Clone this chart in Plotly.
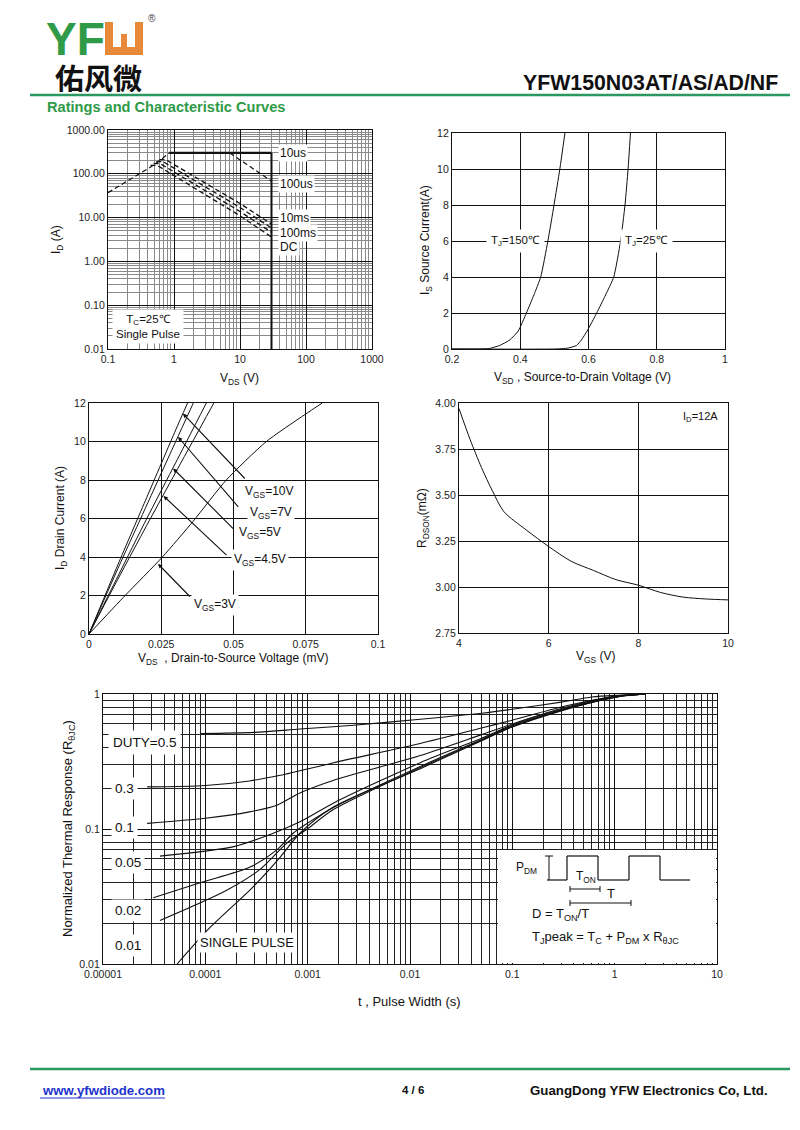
import math
import plotly.graph_objects as go

W, H = 800, 1130
OFF = 8  # page body margin of the rendered html
def px(x): return (x - OFF) / W
def py(y): return 1 - (y - OFF) / H
def lg(v): return math.log10(v)

FONT = "Liberation Sans, Arial, sans-serif"
BLACK = "#111111"

# ---------------- data ----------------
# SOA (plot 1)
soa_rds_x = [0.1, 0.5, 0.85]
soa_rds_y = [37, 160, 300]
soa_10us_x = [0.85, 30]
soa_10us_y = [300, 300]
soa_100us_x = [7, 30]
soa_100us_y = [300, 68]
soa_1ms_x = [0.6, 0.75, 10, 30]
soa_1ms_y = [210, 210, 21, 7.1]
soa_10ms_x = [0.54, 0.68, 10, 30]
soa_10ms_y = [190, 190, 17, 5.8]
soa_100ms_x = [0.49, 0.62, 10, 30]
soa_100ms_y = [170, 170, 13.8, 4.6]
soa_dc_x = [0.44, 0.56, 10, 30]
soa_dc_y = [155, 155, 11, 3.6]
vds_max_x = [30, 30]
vds_max_y = [0.01, 300]

# Source-drain diode (plot 2)
vsd_150_x = [0.2, 0.28, 0.31, 0.34, 0.369, 0.394, 0.418, 0.44, 0.46, 0.481, 0.499, 0.516, 0.531]
is_150_y = [0, 0, 0.03, 0.2, 0.5, 1, 2, 3, 4, 6, 8, 10, 12]
vsd_25_x = [0.2, 0.5, 0.54, 0.565, 0.579, 0.596, 0.624, 0.65, 0.674, 0.694, 0.707, 0.716, 0.723]
is_25_y = [0, 0, 0.05, 0.2, 0.5, 1, 2, 3, 4, 6, 8, 10, 12]

# Output characteristics (plot 3)
vds_10_x = [0, 0.01, 0.02, 0.03, 0.0341]
id_10_y = [0, 3.6, 7.1, 10.6, 12]
vds_7_x = [0, 0.01, 0.02, 0.03, 0.0361]
id_7_y = [0, 3.4, 6.7, 10.0, 12]
vds_5_x = [0, 0.01, 0.02, 0.03, 0.0406]
id_5_y = [0, 3.0, 6.0, 8.9, 12]
vds_45_x = [0, 0.01, 0.02, 0.03, 0.0432]
id_45_y = [0, 2.85, 5.65, 8.4, 12]
vds_3_x = [0, 0.0125, 0.0254, 0.036, 0.0475, 0.0614, 0.0807]
id_3_y = [0, 2, 4, 5.85, 8, 10, 12]

# RDS(on) vs VGS (plot 4)
vgs_x = [4, 4.25, 4.5, 4.75, 5, 5.5, 6, 6.5, 7, 7.5, 8, 8.5, 9, 9.5, 10]
rdson_y = [3.97, 3.80, 3.65, 3.52, 3.41, 3.31, 3.22, 3.14, 3.09, 3.04, 3.01, 2.97, 2.945, 2.935, 2.93]

# Transient thermal response (plot 5)
th_d05_x = [9e-5, 3e-4, 8.4e-4, 3e-3, 0.0126, 0.05, 0.1, 0.3, 0.6, 1.1, 2]
th_d05_y = [0.51, 0.52, 0.55, 0.59, 0.65, 0.72, 0.77, 0.87, 0.95, 0.98, 1.0]
th_d03_x = [2.7e-5, 1e-4, 2.7e-4, 5.4e-4, 1.8e-3, 0.0126, 0.05, 0.1, 0.3, 0.6, 1.1, 2]
th_d03_y = [0.205, 0.21, 0.227, 0.25, 0.31, 0.43, 0.56, 0.64, 0.8, 0.9, 0.97, 1.0]
th_d01_x = [2.7e-5, 1e-4, 2.7e-4, 5e-4, 8.4e-4, 1.8e-3, 0.0126, 0.05, 0.1, 0.3, 0.6, 1.1, 2]
th_d01_y = [0.11, 0.12, 0.134, 0.15, 0.185, 0.23, 0.35, 0.5, 0.6, 0.78, 0.89, 0.97, 1.0]
th_d005_x = [3.6e-5, 1.9e-4, 4.6e-4, 8.4e-4, 1.8e-3, 0.0126, 0.05, 0.1, 0.3, 0.6, 1.1, 2]
th_d005_y = [0.063, 0.074, 0.093, 0.113, 0.156, 0.31, 0.47, 0.59, 0.77, 0.88, 0.96, 1.0]
th_d002_x = [3.1e-5, 8.9e-5, 2.7e-4, 5e-4, 7.2e-4, 9.9e-4, 1.8e-3, 0.0126, 0.05, 0.1, 0.3, 0.6, 1.1, 2]
th_d002_y = [0.031, 0.040, 0.052, 0.070, 0.093, 0.11, 0.145, 0.29, 0.46, 0.58, 0.76, 0.87, 0.96, 1.0]
th_d001_x = [3.6e-5, 1.6e-4, 3.4e-4, 6.3e-4, 9.9e-4, 1.8e-3, 0.0126, 0.05, 0.1, 0.3, 0.6, 1.1, 2]
th_d001_y = [0.021, 0.035, 0.050, 0.079, 0.10, 0.14, 0.285, 0.455, 0.575, 0.755, 0.87, 0.96, 1.0]
th_sp_x = [5.3e-5, 1.1e-4, 2.9e-4, 5.4e-4, 8.4e-4, 1.8e-3, 0.0126, 0.05, 0.1, 0.3, 0.6, 1.1, 2]
th_sp_y = [0.01, 0.0185, 0.037, 0.062, 0.093, 0.146, 0.28, 0.45, 0.57, 0.75, 0.865, 0.955, 1.0]

# tick labels
soa_xticks = [0.1, 1, 10, 100, 1000]
soa_xlabels = ["0.1", "1", "10", "100", "1000"]
soa_yticks = [0.01, 0.1, 1, 10, 100, 1000]
soa_ylabels = ["0.01", "0.10", "1.00", "10.00", "100.00", "1000.00"]
vsd_ticks = [0.2, 0.4, 0.6, 0.8, 1.0]
vsd_labels = ["0.2", "0.4", "0.6", "0.8", "1"]
vds_ticks = [0, 0.025, 0.05, 0.075, 0.1]
vds_labels = ["0", "0.025", "0.05", "0.075", "0.1"]
th_xticks = [1e-5, 1e-4, 1e-3, 1e-2, 0.1, 1, 10]
th_xlabels = ["0.00001", "0.0001", "0.001", "0.01", "0.1", "1", "10"]
th_yticks = [0.01, 0.1, 1]
th_ylabels = ["0.01", "0.1", "1"]

def minor_vals(e0, e1):
    return [m * 10 ** e for e in range(e0, e1) for m in range(2, 10)]

fig = go.Figure()

def line(x, y, xa, ya, dash="solid", width=1.1, shape="linear", smoothing=1.0):
    fig.add_trace(go.Scatter(x=x, y=y, mode="lines", xaxis=xa, yaxis=ya,
                             line=dict(color=BLACK, width=width, dash=dash, shape=shape,
                                       smoothing=smoothing),
                             hoverinfo="skip", showlegend=False))

# plot 1
line(vds_max_x, vds_max_y, "x", "y", width=2)
line(soa_rds_x, soa_rds_y, "x", "y", dash="5px,3px", width=1.2)
line(soa_10us_x, soa_10us_y, "x", "y", width=2.2)
line(soa_100us_x, soa_100us_y, "x", "y", dash="5px,3px", width=1.2)
for xs, ys in [(soa_1ms_x, soa_1ms_y), (soa_10ms_x, soa_10ms_y),
               (soa_100ms_x, soa_100ms_y), (soa_dc_x, soa_dc_y)]:
    line(xs, ys, "x", "y", dash="5px,3px", width=1.3)

# plot 2
line(vsd_150_x, is_150_y, "x2", "y2", width=1, shape="spline", smoothing=0.5)
line(vsd_25_x, is_25_y, "x2", "y2", width=1, shape="spline", smoothing=0.5)

# plot 3
for xs, ys in [(vds_10_x, id_10_y), (vds_7_x, id_7_y), (vds_5_x, id_5_y),
               (vds_45_x, id_45_y), (vds_3_x, id_3_y)]:
    line(xs, ys, "x3", "y3", width=1, shape="spline", smoothing=0.6)

# plot 4
line(vgs_x, rdson_y, "x4", "y4", width=1, shape="spline", smoothing=0.8)

# plot 5
for xs, ys in [(th_d05_x, th_d05_y), (th_d03_x, th_d03_y), (th_d01_x, th_d01_y),
               (th_d005_x, th_d005_y), (th_d002_x, th_d002_y), (th_d001_x, th_d001_y),
               (th_sp_x, th_sp_y)]:
    line(xs, ys, "x5", "y5", width=1.1, shape="spline", smoothing=0.8)

tickfont = dict(family=FONT, size=10.5, color="#222")

def lin_axis(domain, rng, anchor, tv=None, tt=None, dtick=None, **kw):
    d = dict(domain=domain, range=rng, anchor=anchor, automargin=False,
             showgrid=True, gridcolor=BLACK, gridwidth=1, zeroline=False,
             showline=True, linecolor=BLACK, linewidth=1.2, mirror=True,
             ticks="", tickfont=tickfont)
    if tv is not None:
        d.update(tickmode="array", tickvals=tv, ticktext=tt)
    else:
        d.update(dtick=dtick)
    d.update(kw)
    return d

def log_axis(domain, rng, tv, tt, anchor, major_w, minor_c, minor_w):
    return dict(domain=domain, type="log", range=rng, anchor=anchor, automargin=False,
                tickmode="array", tickvals=tv, ticktext=tt,
                showgrid=True, gridcolor=BLACK, gridwidth=major_w, zeroline=False,
                showline=True, linecolor=BLACK, linewidth=1.3, mirror=True,
                ticks="", tickfont=tickfont,
                minor=dict(tickmode="array", tickvals=minor_vals(rng[0], rng[1]),
                           showgrid=True, gridcolor=minor_c, gridwidth=minor_w, ticks=""))

fig.update_layout(
    width=W, height=H, margin=dict(l=0, r=0, t=0, b=0, autoexpand=False),
    paper_bgcolor="white", plot_bgcolor="white", showlegend=False,
    font=dict(family=FONT, color=BLACK),
    xaxis=log_axis([px(108), px(372)], [-1, 3], soa_xticks, soa_xlabels, "y", 1.4, "#8a8a8a", 0.7),
    yaxis=log_axis([py(349), py(130)], [-2, 3], soa_yticks, soa_ylabels, "x", 1.4, "#8a8a8a", 0.7),
    xaxis2=lin_axis([px(452), px(725)], [0.2, 1], "y2", tv=vsd_ticks, tt=vsd_labels),
    yaxis2=lin_axis([py(349), py(133)], [0, 12], "x2", dtick=2),
    xaxis3=lin_axis([px(89), px(378)], [0, 0.1], "y3", tv=vds_ticks, tt=vds_labels),
    yaxis3=lin_axis([py(634), py(403)], [0, 12], "x3", dtick=2),
    xaxis4=lin_axis([px(459), px(728)], [4, 10], "y4", dtick=2),
    yaxis4=lin_axis([py(633), py(403)], [2.75, 4.0], "x4", dtick=0.25, tickformat=".2f"),
    xaxis5=log_axis([px(103), px(717)], [-5, 1], th_xticks, th_xlabels, "y5", 1.3, "#222", 0.9),
    yaxis5=log_axis([py(964), py(694)], [-2, 0], th_yticks, th_ylabels, "x5", 1.3, "#222", 0.9),
)

ann = []
def text(x, y, s, size=12, xanchor="center", yanchor="middle", angle=0, bg=None,
         xref="paper", yref="paper", color=BLACK, family=FONT, pad=1, height=None):
    d = dict(x=x, y=y, text=s, showarrow=False, xref=xref, yref=yref,
             xanchor=xanchor, yanchor=yanchor, textangle=angle,
             font=dict(family=family, size=size, color=color), borderpad=pad)
    if bg:
        d["bgcolor"] = bg
    if height:
        d["height"] = height
    ann.append(d)

# header
text(px(45), py(39), "<b>YF</b>", size=46, xanchor="left", color="#2f9a47", pad=0, height=36)
text(px(152), py(18), "®", size=10, color="#444")
text(px(98), py(77), "<b>佑风微</b>", size=29, family="Noto Sans CJK SC", pad=0, height=30)
text(px(780), py(83), "<b>YFW150N03AT/AS/AD/NF</b>", size=21.3, xanchor="right")
text(px(45), py(107), "<b>Ratings and Characteristic Curves</b>", size=14.6, xanchor="left", color="#2f9a47")

# footer
text(px(40), py(1090), "<b>www.yfwdiode.com</b>", size=13.2, xanchor="left", color="#2233cc")
text(px(413), py(1090), "<b>4 / 6</b>", size=11.5)
text(px(770), py(1090), "<b>GuangDong YFW Electronics Co, Ltd.</b>", size=13.3, xanchor="right")

# axis titles
text(px(240), py(379), "V<sub>DS</sub> (V)", size=12)
text(px(57), py(240), "I<sub>D</sub> (A)", size=12, angle=-90)
text(px(582), py(378), "V<sub>SD</sub> , Source-to-Drain Voltage (V)", size=12)
text(px(426), py(240), "I<sub>S</sub> Source Current(A)", size=12, angle=-90)
text(px(233), py(659), "V<sub>DS</sub>  , Drain-to-Source Voltage (mV)", size=12)
text(px(61), py(518), "I<sub>D</sub> Drain Current (A)", size=12, angle=-90)
text(px(595), py(657), "V<sub>GS</sub> (V)", size=12)
text(px(423), py(518), "R<sub>DSON</sub>(mΩ)", size=12, angle=-90)
text(px(410), py(1001), "t , Pulse Width (s)", size=13)
text(px(68), py(829), "Normalized Thermal Response (R<sub>θJC</sub>)", size=13, angle=-90)

# plot 1 labels (log axes -> log10 positions)
for s, yv in [("10us", 300), ("100us", 58), ("10ms", 9.8), ("100ms", 4.4), ("DC", 2.1)]:
    text(lg(37.7), lg(yv), s, size=12, xanchor="left", xref="x", yref="y", bg="white")
text(lg(0.116), lg(0.033), "T<sub>C</sub>=25℃<br>Single Pulse", size=11.5, xanchor="left",
     xref="x", yref="y", bg="white", pad=3)

# plot 2 labels
text(0.385, 6, "T<sub>J</sub>=150℃", size=11.5, xref="x2", yref="y2", bg="white", pad=4)
text(0.771, 6, "T<sub>J</sub>=25℃", size=11.5, xref="x2", yref="y2", bg="white", pad=4)

# plot 3 arrows and labels
arrows3 = [((0.0325, 11.45), (0.0544, 8.0), (0.0623, 7.4), "V<sub>GS</sub>=10V"),
           ((0.0308, 10.24), (0.0521, 6.53), (0.0631, 6.3), "V<sub>GS</sub>=7V"),
           ((0.0291, 8.6), (0.0504, 5.4), (0.0593, 5.23), "V<sub>GS</sub>=5V"),
           ((0.0258, 7.17), (0.0481, 4.02), (0.0590, 3.85), "V<sub>GS</sub>=4.5V"),
           ((0.0239, 3.64), (0.0354, 1.87), (0.0435, 1.52), "V<sub>GS</sub>=3V")]
for tip, tail, lab, s in arrows3:
    ann.append(dict(x=tip[0], y=tip[1], ax=tail[0], ay=tail[1], xref="x3", yref="y3",
                    axref="x3", ayref="y3", text="", showarrow=True, arrowhead=2,
                    arrowsize=0.8, arrowwidth=1.1, arrowcolor=BLACK, standoff=0))
for tip, tail, lab, s in arrows3:
    text(lab[0], lab[1], s, size=12, xref="x3", yref="y3", bg="white", pad=2)

# plot 4 label
text(px(700), py(417), "I<sub>D</sub>=12A", size=11)

# plot 5 labels
text(px(108), py(742), "DUTY=0.5", size=13.5, xanchor="left", bg="white", pad=4)
for s, yy in [("0.3", 788), ("0.1", 827), ("0.05", 862), ("0.02", 910), ("0.01", 945)]:
    text(px(111), py(yy), s, size=13.5, xanchor="left", bg="white", pad=3)
text(px(197), py(942), "SINGLE PULSE", size=13, xanchor="left", bg="white", pad=2)

shapes = []
def seg(x0, y0, x1, y1, w=1.2, color=BLACK):
    shapes.append(dict(type="line", xref="paper", yref="paper",
                       x0=px(x0), y0=py(y0), x1=px(x1), y1=py(y1),
                       line=dict(color=color, width=w), layer="above"))

# header / footer rules
seg(30, 95, 790, 95, w=2.5, color="#2a9860")
seg(30, 1069, 790, 1069, w=2.5, color="#2a9860")
seg(40, 1098, 165, 1098, w=1, color="#2233cc")

# logo orange glyph
ORANGE = "#e8893a"
for (x0, y0, x1, y1) in [(105, 22, 113, 55), (135, 22, 143, 55), (105, 47, 143, 55), (121, 34, 127, 50)]:
    shapes.append(dict(type="rect", xref="paper", yref="paper", x0=px(x0), y0=py(y1),
                       x1=px(x1), y1=py(y0), fillcolor=ORANGE, line=dict(width=0)))

# inset white box in thermal plot
shapes.append(dict(type="rect", xref="paper", yref="paper", x0=px(498), y0=py(963),
                   x1=px(716), y1=py(850), fillcolor="white", line=dict(width=0), layer="above"))
# waveform
wave = [(547, 880), (567, 880), (567, 856), (598, 856), (598, 880), (629, 880),
        (629, 856), (660, 856), (660, 880), (690, 880)]
for (a, b), (c, d) in zip(wave[:-1], wave[1:]):
    seg(a, b, c, d, w=1.2)
seg(549, 856, 549, 880, w=1)
seg(545, 856, 553, 856, w=1)
# T_ON and T brackets
seg(570, 889, 600, 889, w=1)
seg(570, 886, 570, 892, w=1)
seg(600, 886, 600, 892, w=1)
seg(570, 903, 631, 903, w=1)
seg(570, 900, 570, 906, w=1)
seg(631, 900, 631, 906, w=1)

# inset box text
text(px(526), py(868), "P<sub>DM</sub>", size=12)
text(px(586), py(877), "T<sub>ON</sub>", size=12)
text(px(611), py(893), "T", size=13)
text(px(530), py(914), "D = T<sub>ON</sub>/T", size=13, xanchor="left")
text(px(530), py(938), "T<sub>J</sub>peak = T<sub>C</sub> + P<sub>DM</sub> x R<sub>θJC</sub>", size=13, xanchor="left")

fig.update_layout(annotations=ann, shapes=shapes)
fig.write_html("out.html")
